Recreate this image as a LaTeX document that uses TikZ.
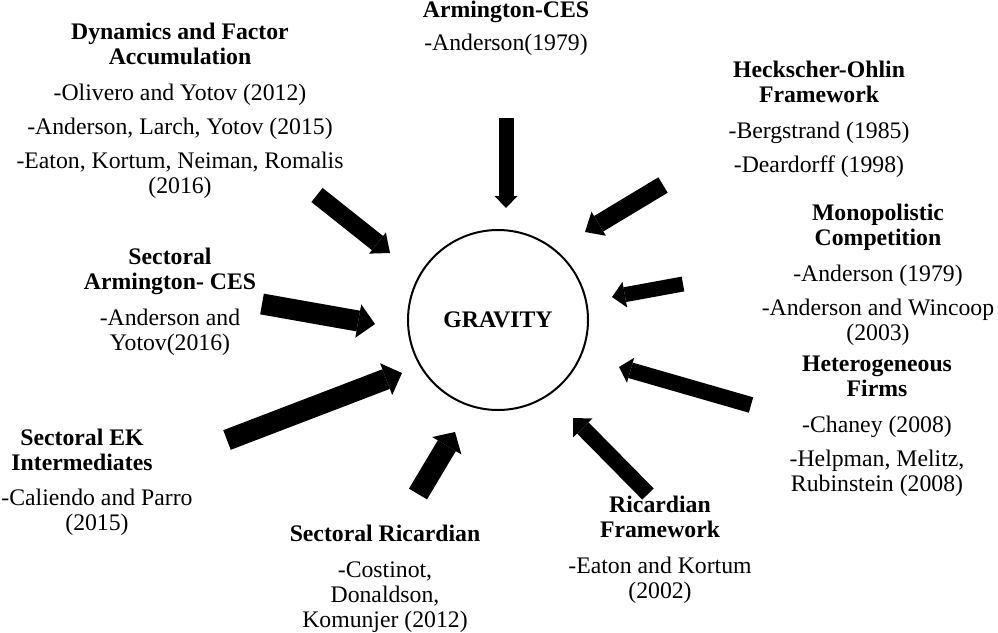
\documentclass[tikz,border=0pt]{standalone}
\usepackage{fontspec}
\setmainfont{Liberation Serif}
\usetikzlibrary{arrows.meta}
\begin{document}
\begin{tikzpicture}[x=0.75pt,y=-0.75pt,
  txt/.style={align=center,inner sep=0pt,anchor=north,font=\fontsize{17.8}{18.75}\selectfont},
  arr/.style n args={3}{line width=#1,-{Triangle[line width=0pt,width=#2,length=#3]}},
  hub/.style={circle,draw,line width=1.5pt,minimum size=135pt,inner sep=0pt,font=\fontsize{17.8}{18.75}\selectfont\bfseries}]
\useasboundingbox (0,0) rectangle (998,632);
\node[hub] (g) at (498,320) {GRAVITY};
% text blocks
\node[txt] (arm) at (506,0.5) {\textbf{Armington-CES}\\[6pt] -Anderson(1979)};
\node[txt] (dyn) at (180,22.5) {\textbf{Dynamics and Factor}\\\textbf{Accumulation}\\[8.25pt]
  -Olivero and Yotov (2012)\\[6.75pt] -Anderson, Larch, Yotov (2015)\\[6.75pt]
  -Eaton, Kortum, Neiman, Romalis\\(2016)};
\node[txt] (ho) at (819,60.5) {\textbf{Heckscher-Ohlin}\\\textbf{Framework}\\[8.25pt]
  -Bergstrand (1985)\\[6.75pt] -Deardorff (1998)};
\node[txt] (mono) at (878,203.5) {\textbf{Monopolistic}\\\textbf{Competition}\\[8.25pt]
  -Anderson (1979)\\[6.75pt] -Anderson and Wincoop\\(2003)};
\node[txt] (het) at (877,355.5) {\textbf{Heterogeneous}\\\textbf{Firms}\\[8.25pt]
  -Chaney (2008)\\[6.75pt] -Helpman, Melitz,\\Rubinstein (2008)};
\node[txt] (sac) at (170,247.5) {\textbf{Sectoral}\\\textbf{Armington- CES}\\[8.25pt]
  -Anderson and\\Yotov(2016)};
\node[txt] (sek) at (82,428.5) {\textbf{Sectoral EK}\\\textbf{Intermediates}};
\node[txt] (sekr) at (97,488.5) {-Caliendo and Parro\\(2015)};
\node[txt] (sric) at (385,524.5) {\textbf{Sectoral Ricardian}\\[8.25pt]
  -Costinot,\\Donaldson,\\Komunjer (2012)};
\node[txt] (ric) at (660,495.5) {\textbf{Ricardian}\\\textbf{Framework}\\[8.25pt]
  -Eaton and Kortum\\(2002)};
% arrow ends
\coordinate (t1) at (506,118); \coordinate (h1) at (506,208);
\coordinate (t2) at (317,195); \coordinate (h2) at (390,253);
\coordinate (t3) at (663,185); \coordinate (h3) at (585,232);
\coordinate (t4) at (683,284); \coordinate (h4) at (612,297);
\coordinate (t5) at (262,304); \coordinate (h5) at (375,324);
\coordinate (t6) at (227,440); \coordinate (h6) at (402,373);
\coordinate (t7) at (418,494); \coordinate (h7) at (455,432);
\coordinate (t8) at (648,494); \coordinate (h8) at (573,418);
\coordinate (t9) at (751,405); \coordinate (h9) at (619,367);
\draw[arr={11.25pt}{17.25pt}{9pt}] (t1) -- (h1);
\draw[arr={13.5pt}{20.25pt}{12pt}] (t2) -- (h2);
\draw[arr={13.5pt}{21pt}{12pt}] (t3) -- (h3);
\draw[arr={11.25pt}{19.5pt}{9.75pt}] (t4) -- (h4);
\draw[arr={15.75pt}{25.5pt}{12.75pt}] (t5) -- (h5);
\draw[arr={15.75pt}{25.5pt}{12.75pt}] (t6) -- (h6);
\draw[arr={15.75pt}{25.5pt}{12pt}] (t7) -- (h7);
\draw[arr={12pt}{20.25pt}{10.5pt}] (t8) -- (h8);
\draw[arr={12pt}{19.5pt}{9pt}] (t9) -- (h9);
\end{tikzpicture}
\end{document}
